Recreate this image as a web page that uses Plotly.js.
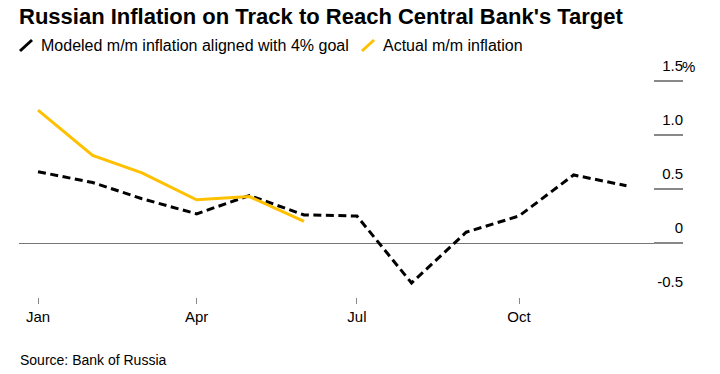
<!DOCTYPE html>
<html>
<head>
<meta charset="utf-8">
<script src="https://cdn.plot.ly/plotly-3.0.1.min.js"></script>
<style>html,body{margin:0;padding:0;background:#fff;}#chart{width:720px;height:374px;}</style>
</head>
<body>
<div id="chart"></div>
<script>
const months = ['2025-01-01','2025-02-01','2025-03-01','2025-04-01','2025-05-01','2025-06-01','2025-07-01','2025-08-01','2025-09-01','2025-10-01','2025-11-01','2025-12-01'];
const modeled = [0.66, 0.56, 0.41, 0.27, 0.44, 0.26, 0.25, -0.37, 0.10, 0.25, 0.63, 0.53];
const actualMonths = ['2025-01-01','2025-02-01','2025-03-01','2025-04-01','2025-05-01','2025-06-01'];
const actual = [1.23, 0.81, 0.65, 0.40, 0.43, 0.20];
const xTickVals = ['2025-01-01','2025-04-01','2025-07-01','2025-10-01'];
const xTickText = ['Jan','Apr','Jul','Oct'];
const yTickVals = [-0.5, 0, 0.5, 1.0, 1.5];
const yTickText = ['-0.5', '0', '0.5', '1.0', '1.5'];
const seriesNames = ['Modeled m/m inflation aligned with 4% goal', 'Actual m/m inflation'];
const titleText = "Russian Inflation on Track to Reach Central Bank's Target";
const sourceText = 'Source: Bank of Russia';

const W = 720, H = 374;
const ML = 19, MR = 37, MT = 54, MB = 77;
const PW = W - ML - MR, PH = H - MT - MB;
const px = x => (x - ML) / PW;          // pixel -> paper x
const py = y => (H - MB - y) / PH;      // pixel -> paper y
const FONT = 'Liberation Sans, Arial, sans-serif';
const YELLOW = '#FFC000';

const traces = [
  {x: months, y: modeled, type: 'scatter', mode: 'lines', name: seriesNames[0],
   line: {color: '#000', width: 3, dash: '8px,4.5px'}, hoverinfo: 'skip'},
  {x: actualMonths, y: actual, type: 'scatter', mode: 'lines', name: seriesNames[1],
   line: {color: YELLOW, width: 3}, hoverinfo: 'skip'}
];

const layout = {
  width: W, height: H,
  margin: {l: ML, r: MR, t: MT, b: MB},
  paper_bgcolor: '#fff', plot_bgcolor: '#fff',
  showlegend: false,
  font: {family: FONT, size: 15, color: '#000'},
  title: {text: '<b>' + titleText + '</b>', font: {family: FONT, size: 22, color: '#000'},
          xref: 'container', x: 19 / W, xanchor: 'left', yref: 'container', y: 1 - 9 / H, yanchor: 'top'},
  xaxis: {
    type: 'date', range: ['2024-12-21 05:00', '2026-01-02 02:00'],
    tickmode: 'array', tickvals: xTickVals, ticktext: xTickText,
    ticks: 'outside', ticklen: 6, tickwidth: 1, tickcolor: '#888',
    showgrid: false, zeroline: false, showline: false,
    tickfont: {family: FONT, size: 15, color: '#000'}
  },
  yaxis: {
    range: [-0.5, 1.75], side: 'right',
    tickmode: 'array', tickvals: yTickVals, ticktext: yTickText,
    ticklabelposition: 'inside top', ticklabelshift: -4, ticklabelstandoff: -3,
    ticks: 'inside', ticklen: 29, tickwidth: 2, tickcolor: '#888',
    showgrid: false, showline: false,
    zeroline: true, zerolinecolor: '#777', zerolinewidth: 1,
    tickfont: {family: FONT, size: 15, color: '#000'}
  },
  shapes: [
    {type: 'line', xref: 'paper', yref: 'paper', x0: px(20), y0: py(51), x1: px(32), y1: py(40),
     line: {color: '#000', width: 3}},
    {type: 'line', xref: 'paper', yref: 'paper', x0: px(362), y0: py(51), x1: px(374), y1: py(40),
     line: {color: YELLOW, width: 3}}
  ],
  annotations: [
    {text: seriesNames[0], xref: 'paper', yref: 'paper', x: px(39), y: py(45.5), xanchor: 'left', yanchor: 'middle',
     showarrow: false, font: {family: FONT, size: 16, color: '#000'}},
    {text: seriesNames[1], xref: 'paper', yref: 'paper', x: px(381), y: py(45.5), xanchor: 'left', yanchor: 'middle',
     showarrow: false, font: {family: FONT, size: 16, color: '#000'}},
    {text: '%', xref: 'paper', yref: 'y', x: 1, y: yTickVals[4], xanchor: 'left', yanchor: 'middle', yshift: 15, xshift: -3,
     showarrow: false, font: {family: FONT, size: 15, color: '#000'}},
    {text: sourceText, xref: 'paper', yref: 'paper', x: px(18), y: py(360), xanchor: 'left', yanchor: 'middle',
     showarrow: false, font: {family: FONT, size: 14, color: '#000'}}
  ]
};

Plotly.newPlot('chart', traces, layout, {staticPlot: true, displayModeBar: false});
</script>
</body>
</html>
